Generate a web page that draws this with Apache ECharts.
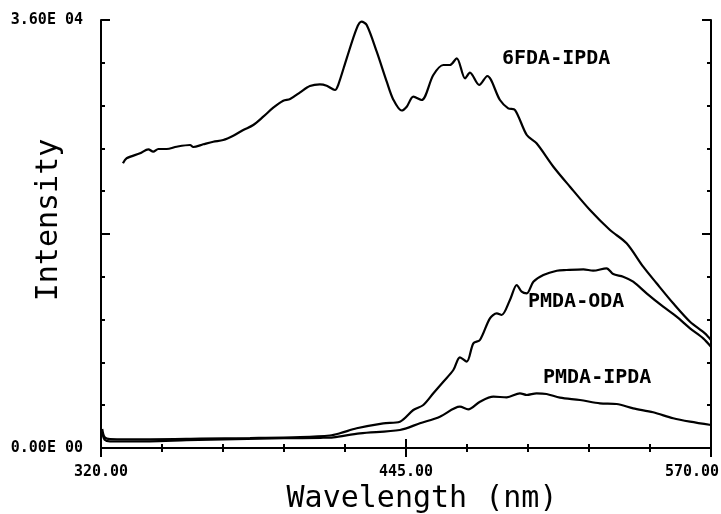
<!DOCTYPE html>
<html>
<head>
<meta charset="utf-8">
<script src="https://cdn.jsdelivr.net/npm/echarts@6/dist/echarts.min.js"></script>
<style>
html,body{margin:0;padding:0;background:#fff;}
#chart{width:721px;height:514px;}
</style>
</head>
<body>
<div id="chart"></div>
<script>
// Wavelength (nm), Intensity pairs
const seriesNames = ['6FDA-IPDA', 'PMDA-ODA', 'PMDA-IPDA'];

const fda6ipda = [
  [329.0, 23946], [330.5, 24367], [336.0, 24787], [339.4, 25124], [341.4, 24922],
  [343.5, 25149], [346.9, 25149], [351.0, 25342], [356.5, 25485], [357.8, 25317],
  [361.9, 25544], [366.0, 25763], [370.1, 25906], [374.2, 26268], [378.3, 26747],
  [382.4, 27168], [386.5, 27866], [390.6, 28623], [394.7, 29211], [397.5, 29354],
  [401.6, 29918], [405.6, 30448], [409.7, 30591], [412.5, 30473], [415.9, 30111],
  [417.2, 30532], [420.7, 32778], [424.8, 35301], [426.8, 35856], [428.9, 35579],
  [433.0, 33333], [437.1, 30810], [439.8, 29300], [443.2, 28387], [445.3, 28707],
  [448.0, 29548], [451.4, 29270], [456.2, 31373], [460.3, 32214], [463.0, 32214],
  [465.8, 32778], [469.2, 31095], [471.2, 31567], [475.0, 30532], [478.3, 31289],
  [483.5, 29270], [486.9, 28572], [489.7, 28429], [494.5, 26326], [498.5, 25628],
  [505.4, 23660], [512.2, 21978], [520.4, 20018], [528.6, 18336], [535.4, 17217],
  [542.2, 15249], [547.7, 13853], [554.5, 12171], [561.4, 10623], [567.5, 9647],
  [570.0, 9084]
];

const pmdaoda = [
  [320.5, 1600], [321.5, 900], [323.7, 757], [340.1, 732], [360.6, 782],
  [381.1, 841], [401.6, 925], [413.8, 1051], [417.9, 1236], [424.8, 1657],
  [435.7, 2078], [442.5, 2212], [448.0, 3196], [452.1, 3617], [456.2, 4601],
  [460.3, 5577], [464.4, 6561], [467.1, 7629], [469.9, 7259], [472.6, 8806],
  [475.3, 9084], [479.4, 10909], [482.2, 11330], [484.2, 11187], [487.6, 12448],
  [490.4, 13710], [492.4, 13146], [494.5, 13012], [497.2, 13987], [501.3, 14551],
  [506.8, 14913], [510.8, 14972], [517.7, 15030], [521.7, 14913], [527.2, 15115],
  [529.9, 14635], [534.0, 14408], [538.1, 13987], [543.6, 13012], [550.4, 11885],
  [555.9, 11044], [561.4, 10068], [566.8, 9227], [570.0, 8520]
];

const pmdaipda = [
  [320.5, 1300], [321.5, 700], [323.7, 550], [340.0, 560], [355.0, 650],
  [375.0, 750], [395.0, 820], [410.0, 860], [415.2, 900], [426.1, 1236],
  [442.5, 1514], [450.7, 2078], [458.9, 2633], [467.1, 3474], [470.5, 3255],
  [475.3, 3894], [480.8, 4315], [486.3, 4264], [491.7, 4601], [494.5, 4458],
  [498.5, 4601], [502.6, 4542], [508.1, 4231], [516.3, 4037], [524.5, 3760],
  [531.3, 3701], [538.1, 3339], [546.3, 3003], [554.5, 2498], [561.4, 2212],
  [570.0, 1935]
];

const xMin = 320, xMax = 570, xStep = 125;
const yMin = 0, yMax = 36000, yStep = 18000;
const yTickLabels = { 0: '0.00E 00', 36000: '3.60E 04' };
const xTickLabels = { 320: '320.00', 445: '445.00', 570: '570.00' };

const chart = echarts.init(document.getElementById('chart'), null, { renderer: 'canvas' });

const monoBold = { fontFamily: 'DejaVu Sans Mono', fontWeight: 'bold', fontSize: 15, color: '#000' };
const axisLine = { show: true, lineStyle: { color: '#000', width: 2 } };
const axisTick = { show: true, inside: true, length: 9, lineStyle: { color: '#000', width: 2 } };
const minorTick = { show: true, splitNumber: 5, length: 4, lineStyle: { color: '#000', width: 2 } };

const xBase = {
  type: 'value', min: xMin, max: xMax, interval: xStep,
  axisLine, axisTick, minorTick, splitLine: { show: false }, minorSplitLine: { show: false }
};
const yBase = {
  type: 'value', min: yMin, max: yMax, interval: yStep,
  axisLine, axisTick, minorTick, splitLine: { show: false }, minorSplitLine: { show: false }
};

const labelStyle = { fontFamily: 'DejaVu Sans Mono', fontSize: 30, color: '#000' };

chart.setOption({
  animation: false,
  backgroundColor: '#fff',
  grid: { left: 101, right: 10, top: 20, bottom: 66, containLabel: false, outerBoundsMode: 'none' },
  xAxis: [
    Object.assign({}, xBase, {
      position: 'bottom',
      name: 'Wavelength (nm)', nameLocation: 'middle', nameGap: 36, nameMoveOverlap: false,
      nameTextStyle: Object.assign({}, labelStyle, { padding: [0, 0, 0, 32] }),
      axisLabel: {
        show: true, margin: 17,
        formatter: v => {
          const t = xTickLabels[v] || '';
          return v === xMax ? '{r|' + t + '}' : '{n|' + t + '}';
        },
        rich: {
          n: monoBold,
          r: Object.assign({}, monoBold, { padding: [0, 38, 0, 0] })
        }
      }
    }),
    Object.assign({}, xBase, { position: 'top', axisLabel: { show: false } })
  ],
  yAxis: [
    Object.assign({}, yBase, {
      position: 'left',
      name: 'Intensity', nameLocation: 'middle', nameGap: 37, nameMoveOverlap: false,
      nameTextStyle: Object.assign({}, labelStyle, { padding: [0, 0, 0, 28] }),
      axisLabel: Object.assign({ show: true, margin: 18, formatter: v => yTickLabels[v] || '' }, monoBold)
    }),
    Object.assign({}, yBase, { position: 'right', axisLabel: { show: false } })
  ],
  series: [fda6ipda, pmdaoda, pmdaipda].map((d, i) => ({
    name: seriesNames[i], type: 'line', data: d, xAxisIndex: 0, yAxisIndex: 0,
    showSymbol: false, smooth: 0.3, lineStyle: { color: '#000', width: 2.2 }
  })),
  graphic: [
    { type: 'text', left: 502, top: 49, style: { text: seriesNames[0], font: 'bold 20px "DejaVu Sans Mono"', fill: '#000' } },
    { type: 'text', left: 528, top: 292, style: { text: seriesNames[1], font: 'bold 20px "DejaVu Sans Mono"', fill: '#000' } },
    { type: 'text', left: 543, top: 368, style: { text: seriesNames[2], font: 'bold 20px "DejaVu Sans Mono"', fill: '#000' } }
  ]
});
</script>
</body>
</html>
